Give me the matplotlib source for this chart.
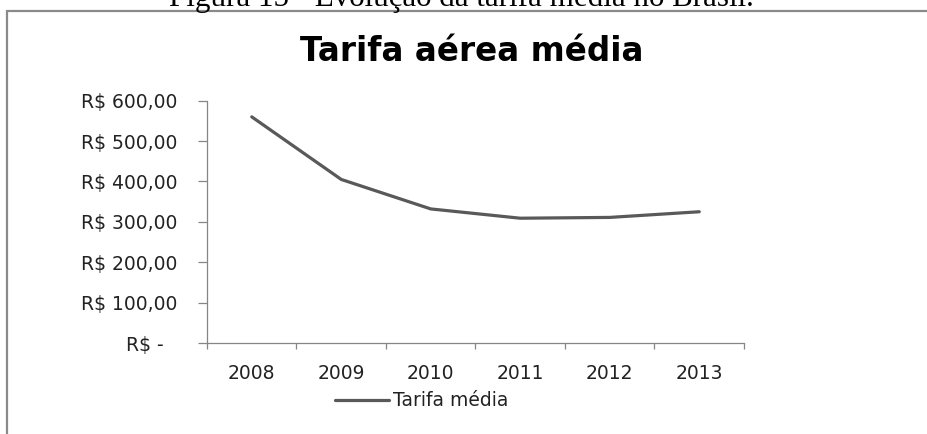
import matplotlib
matplotlib.use("Agg")
import matplotlib.pyplot as plt
from matplotlib.patches import Rectangle
from matplotlib.transforms import ScaledTranslation

# Tarifa aérea média no Brasil, 2008-2013 (R$)
anos = ["2008", "2009", "2010", "2011", "2012", "2013"]
tarifa = [560, 405, 332, 309, 311, 325]
y_ticks = [0, 100, 200, 300, 400, 500, 600]
y_labels = ["R$ -", "R$ 100,00", "R$ 200,00", "R$ 300,00",
            "R$ 400,00", "R$ 500,00", "R$ 600,00"]

LINE = "#595959"
AXIS = "#868686"
FRAME = "#8a8a8a"
TXT = "#222222"
FS = 13.5

W, H = 928, 434
fig = plt.figure(figsize=(W / 100, H / 100), dpi=100)
fig.patch.set_facecolor("white")

# chart frame, runs off the right and bottom edges
fig.patches.append(Rectangle((7 / W, -0.2), 1.2, 1.2 - 11.5 / H,
                             transform=fig.transFigure, fill=False,
                             edgecolor=FRAME, linewidth=1.6))

# page caption above the chart, only its lower half is on the image
fig.text(461 / W, 1 - 5.7 / H, "Figura 15 - Evolução da tarifa média no Brasil.",
         family="Liberation Serif", fontsize=22.3, ha="center", va="baseline")

fig.text(472 / W, 1 - 61 / H, "Tarifa aérea média", family="DejaVu Sans",
         fontweight="bold", fontsize=23.5, ha="center", va="baseline")

ax = fig.add_axes([207 / W, 1 - 343 / H, (744 - 207) / W, (343 - 100.7) / H])
x = list(range(len(anos)))
ax.plot(x, tarifa, color=LINE, linewidth=2.3, solid_capstyle="round",
        label="Tarifa média")

ax.set_xlim(-0.5, len(anos) - 0.5)
ax.set_ylim(0, 600)
for side in ("top", "right"):
    ax.spines[side].set_visible(False)
for side in ("left", "bottom"):
    ax.spines[side].set_color(AXIS)
    ax.spines[side].set_linewidth(0.9)

ax.set_yticks(y_ticks)
ax.set_yticklabels(y_labels)
ax.set_xticks(x)
ax.set_xticklabels(anos)
ax.set_xticks([i - 0.5 for i in range(len(anos) + 1)], minor=True)
ax.tick_params(axis="y", direction="out", length=6.5, width=0.9, color=AXIS,
               pad=15, labelsize=FS, labelcolor=TXT)
ax.tick_params(axis="x", which="major", length=0, pad=15,
               labelsize=FS, labelcolor=TXT)
ax.tick_params(axis="x", which="minor", direction="out", length=4.3,
               width=0.9, color=AXIS)

# zero label sits a bit further left
zero = ax.yaxis.get_major_ticks()[0].label1
zero.set_transform(zero.get_transform() + ScaledTranslation(-0.14, 0, fig.dpi_scale_trans))

ax.legend(loc="center left", bbox_to_anchor=(335 / W, 1 - 401 / H),
          bbox_transform=fig.transFigure, frameon=False, fontsize=FS,
          handlelength=2.9, handletextpad=0.2, borderpad=0, borderaxespad=0,
          labelcolor=TXT)

fig.savefig("out.png", dpi=100, facecolor="white")
